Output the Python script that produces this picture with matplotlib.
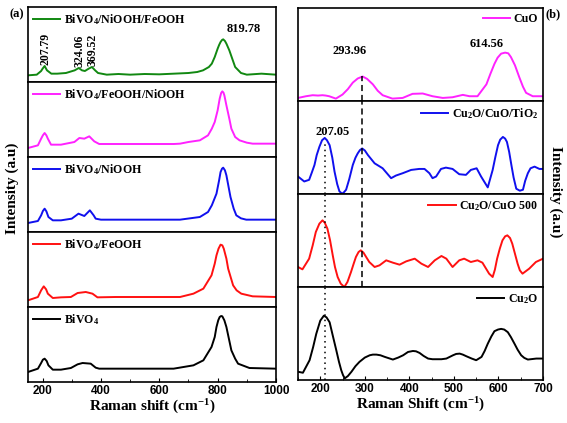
import matplotlib
matplotlib.use("Agg")
import matplotlib.pyplot as plt
from matplotlib.ticker import MultipleLocator

plt.rcParams['mathtext.fontset'] = 'custom'
plt.rcParams['mathtext.rm'] = 'Liberation Serif:bold'
plt.rcParams['mathtext.bf'] = 'Liberation Serif:bold'
plt.rcParams['mathtext.it'] = 'Liberation Serif:bold:italic'
plt.rcParams['font.family'] = 'Liberation Serif'
plt.rcParams['font.weight'] = 'bold'

# ---------------- Panel (a) data (intensity in a.u.) ----------------
a_labels = ["BiVO$_4$/NiOOH/FeOOH", "BiVO$_4$/FeOOH/NiOOH", "BiVO$_4$/NiOOH",
            "BiVO$_4$/FeOOH", "BiVO$_4$"]
a_colors = ["#118811", "#ff22ff", "#1010ee", "#ff1111", "#000000"]

x_nifeooh = [150, 180, 195, 200, 207, 215, 230, 250, 280, 310, 324, 335, 345, 358, 369, 380,
             390, 420, 460, 500, 550, 600, 650, 700, 730, 750, 770, 780, 790, 800, 805, 810,
             815, 819, 825, 830, 840, 850, 860, 880, 900, 950, 1000]
y_nifeooh = [20, 22, 33, 40, 48, 35, 25, 25, 27, 35, 42, 35, 33, 40, 45, 35,
             27, 22, 24, 22, 24, 23, 25, 27, 30, 35, 45, 55, 75, 100, 111, 120,
             126, 128, 123, 115, 95, 70, 45, 27, 22, 25, 22]

x_feniooh = [150, 184, 195, 201, 207, 213, 218, 229, 263, 309, 326, 343, 360, 377, 394, 450,
             550, 650, 671, 700, 739, 767, 780, 790, 800, 807, 812, 816, 820, 823, 830, 840,
             847, 860, 875, 900, 920, 1000]
y_feniooh = [27, 35, 55, 65, 72, 65, 55, 37, 37, 45, 57, 55, 62, 47, 39, 39,
             39, 39, 40, 45, 50, 65, 85, 105, 140, 175, 192, 197, 193, 185, 155, 115,
             85, 60, 50, 43, 40, 40]

x_niooh = [150, 184, 195, 201, 207, 213, 220, 235, 263, 300, 323, 343, 362, 375, 382, 400,
           500, 600, 671, 739, 767, 780, 796, 805, 810, 815, 819, 825, 830, 844, 855, 864,
           880, 898, 1000]
y_niooh = [27, 33, 50, 63, 70, 62, 45, 35, 35, 40, 55, 48, 65, 50, 40, 37,
           37, 37, 37, 45, 60, 80, 115, 155, 180, 190, 193, 185, 170, 105, 70, 50,
           41, 37, 37]

x_feooh = [150, 184, 195, 204, 212, 218, 235, 263, 297, 320, 348, 371, 388, 450, 550, 671,
           717, 751, 779, 790, 796, 803, 810, 816, 821, 830, 836, 853, 865, 881, 920, 1000]
y_feooh = [20, 30, 50, 62, 53, 40, 27, 29, 30, 42, 45, 40, 29, 30, 30, 30,
           40, 55, 95, 130, 155, 175, 187, 185, 175, 145, 115, 65, 50, 40, 32, 30]

x_bivo4 = [150, 184, 195, 201, 207, 214, 220, 235, 263, 297, 320, 337, 365, 382, 394, 500,
           649, 717, 751, 779, 790, 796, 802, 807, 812, 816, 823, 830, 847, 860, 870, 909, 1000]
y_bivo4 = [30, 40, 57, 67, 70, 63, 50, 37, 37, 42, 53, 57, 55, 43, 40, 40,
           40, 50, 65, 105, 135, 165, 185, 195, 198, 197, 185, 165, 95, 70, 55, 42, 40]

a_x = [x_nifeooh, x_feniooh, x_niooh, x_feooh, x_bivo4]
a_y = [y_nifeooh, y_feniooh, y_niooh, y_feooh, y_bivo4]

a_peaks = [207.79, 324.06, 369.52]
a_main_peak = 819.78

# ---------------- Panel (b) data (intensity in a.u.) ----------------
b_labels = ["CuO", "Cu$_2$O/CuO/TiO$_2$", "Cu$_2$O/CuO 500", "Cu$_2$O"]
b_colors = ["#ff22ff", "#1010ee", "#ff1111", "#000000"]

x_cuo = [150, 168, 183, 195, 205, 212, 220, 235, 250, 262, 273, 284, 295, 305, 318, 329,
         340, 362, 385, 407, 430, 452, 475, 497, 520, 535, 553, 573, 582, 591, 598, 606,
         615, 622, 628, 637, 647, 655, 662, 677, 700]
y_cuo = [9, 14, 17, 16, 17, 16, 14, 7, 19, 35, 54, 66, 72, 65, 49, 30,
         17, 7, 9, 21, 22, 14, 9, 11, 18, 14, 14, 49, 80, 109, 127, 139,
         142, 140, 129, 105, 69, 42, 24, 14, 14]

x_tio2 = [150, 164, 175, 181, 187, 192, 198, 204, 210, 215, 221, 227, 232, 238, 243, 249,
          253, 258, 265, 273, 279, 284, 289, 294, 300, 307, 322, 340, 359, 370, 385, 404,
          422, 434, 445, 452, 460, 471, 482, 497, 512, 527, 538, 551, 561, 576, 587, 593,
          599, 604, 610, 615, 619, 624, 629, 634, 640, 648, 655, 660, 666, 672, 681, 692, 700]
y_tio2 = [53, 38, 43, 65, 88, 118, 143, 163, 170, 163, 148, 110, 68, 30, 8, 1,
          5, 13, 45, 88, 110, 123, 133, 138, 132, 118, 93, 78, 48, 56, 63, 73,
          76, 76, 63, 48, 53, 76, 80, 76, 60, 58, 73, 78, 53, 20, 73, 112,
          148, 165, 173, 168, 158, 128, 88, 50, 16, 10, 13, 40, 63, 78, 83, 76, 76]

x_cu500 = [150, 160, 175, 183, 190, 198, 205, 210, 216, 222, 228, 233, 239, 246, 254, 261,
           269, 275, 280, 286, 291, 297, 303, 310, 322, 333, 348, 363, 378, 393, 412, 427,
           442, 457, 472, 483, 497, 512, 523, 538, 553, 564, 579, 587, 592, 597, 603, 609,
           615, 620, 626, 631, 637, 643, 648, 654, 669, 684, 700]
y_cu500 = [60, 53, 85, 125, 165, 190, 200, 193, 175, 140, 95, 60, 30, 10, 0, 15,
           45, 70, 90, 105, 110, 103, 90, 75, 60, 65, 80, 73, 67, 77, 85, 70,
           60, 80, 93, 85, 60, 80, 85, 75, 80, 73, 40, 30, 52, 85, 115, 140,
           152, 155, 147, 130, 100, 70, 50, 40, 55, 75, 85]

x_cu2o = [150, 161, 176, 184, 191, 200, 208, 214, 221, 228, 236, 242, 247, 251, 255, 262,
          270, 279, 288, 300, 311, 318, 326, 335, 345, 354, 363, 375, 386, 397, 408, 415,
          423, 432, 442, 452, 461, 472, 483, 498, 505, 513, 520, 528, 540, 550, 562, 569,
          576, 584, 591, 599, 606, 613, 621, 628, 636, 643, 651, 658, 666, 685, 700]
y_cu2o = [25, 22, 60, 100, 140, 180, 195, 190, 175, 135, 90, 55, 30, 15, 5, 12,
          25, 42, 55, 68, 75, 77, 77, 75, 70, 66, 62, 68, 75, 85, 88, 87,
          82, 73, 65, 63, 63, 63, 65, 75, 79, 80, 77, 72, 65, 60, 70, 88,
          110, 132, 148, 153, 155, 153, 145, 130, 110, 92, 75, 67, 62, 65, 65]

b_x = [x_cuo, x_tio2, x_cu500, x_cu2o]
b_y = [y_cuo, y_tio2, y_cu500, y_cu2o]
b_ymax = [273, 282, 279, 282]

b_peak_cuo_low = 293.96
b_peak_cuo_high = 614.56
b_peak_cu2o = 207.05
b_dotted_x = 210

# ---------------- Figure ----------------
fig = plt.figure(figsize=(5.67, 4.23), dpi=100)
W, H = 567.0, 423.0
leg_fs = 8.6


def style_axis(ax, last, major, minor, xlabel):
    ax.set_yticks([])
    ax.xaxis.set_major_locator(MultipleLocator(major))
    ax.xaxis.set_minor_locator(MultipleLocator(minor))
    ax.tick_params(axis='x', which='both', direction='in', length=3,
                   labelfontfamily='Liberation Sans', labelsize=8.5, pad=2)
    ax.tick_params(axis='x', which='minor', length=2)
    for s in ax.spines.values():
        s.set_linewidth(1.2)
    if not last:
        ax.tick_params(axis='x', which='both', length=0, labelbottom=False)
    else:
        ax.set_xlabel(xlabel, fontsize=11, fontweight='bold', labelpad=1)


# Left stack
lx0, lx1, ltop, lbot = 28, 276, 7, 382
n_a = 5
ph = (lbot - ltop) / n_a
axes_a = []
for i in range(n_a):
    top = ltop + i * ph
    ax = fig.add_axes([lx0 / W, 1 - (top + ph) / H, (lx1 - lx0) / W, ph / H])
    ax.plot(a_x[i], a_y[i], color=a_colors[i], lw=1.4, label=a_labels[i])
    ax.set_xlim(150, 1000)
    ax.set_ylim(0, 225)
    style_axis(ax, i == n_a - 1, 200, 100, "Raman shift (cm$^{-1}$)")
    ax.legend(loc='upper left', frameon=False, fontsize=leg_fs, handlelength=2.3,
              borderaxespad=0.1, handletextpad=0.3, borderpad=0.3)
    axes_a.append(ax)

ax0 = axes_a[0]
ya = [48, 42, 45]
for p, yv in zip(a_peaks, ya):
    ax0.text(p + 2, yv + 4, f"{p:.2f}", rotation=90, ha='center', va='bottom',
             fontsize=8.5, fontweight='bold')
ax0.text(a_main_peak + 68, 142, f"{a_main_peak:.2f}", ha='center', va='bottom',
         fontsize=9, fontweight='bold')

# Right stack
rx0, rx1, rtop, rbot = 298, 543, 8, 380
n_b = 4
phb = (rbot - rtop) / n_b
axes_b = []
for i in range(n_b):
    top = rtop + i * phb
    ax = fig.add_axes([rx0 / W, 1 - (top + phb) / H, (rx1 - rx0) / W, phb / H])
    ax.plot(b_x[i], b_y[i], color=b_colors[i], lw=1.4, label=b_labels[i])
    ax.set_xlim(150, 700)
    ax.set_ylim(0, b_ymax[i])
    style_axis(ax, i == n_b - 1, 100, 50, "Raman Shift (cm$^{-1}$)")
    ax.legend(loc='upper right', frameon=False, fontsize=leg_fs, handlelength=2.3,
              borderaxespad=0.1, handletextpad=0.3, borderpad=0.3)
    axes_b.append(ax)

# reference lines
axes_b[0].plot([b_peak_cuo_low, b_peak_cuo_low], [0, 72], color='black', lw=1.1, ls=(0, (4, 2.5)))
for ax in axes_b[1:3]:
    ax.axvline(b_peak_cuo_low, color='black', lw=1.1, ls=(0, (4, 2.5)))
axes_b[1].plot([b_dotted_x, b_dotted_x], [0, 160], color='black', lw=1.1, ls=(0, (1, 2.5)))
for ax in axes_b[2:4]:
    ax.axvline(b_dotted_x, color='black', lw=1.1, ls=(0, (1, 2.5)))

axes_b[0].text(265, 146, f"{b_peak_cuo_low:.2f}", ha='center', va='center', fontsize=9, fontweight='bold')
axes_b[0].text(573, 167, f"{b_peak_cuo_high:.2f}", ha='center', va='center', fontsize=9, fontweight='bold')
axes_b[1].text(228, 188, f"{b_peak_cu2o:.2f}", ha='center', va='center', fontsize=9, fontweight='bold')

# Figure labels
fig.text(12 / W, 1 - 188 / H, "Intensity (a.u)", rotation=90, ha='center', va='center',
         fontsize=11, fontweight='bold')
fig.text(556 / W, 1 - 192 / H, "Intensity (a.u)", rotation=270, ha='center', va='center',
         fontsize=11, fontweight='bold')
fig.text(17 / W, 1 - 14 / H, "(a)", ha='center', va='center', fontsize=9, fontweight='bold')
fig.text(553 / W, 1 - 14 / H, "(b)", ha='center', va='center', fontsize=9, fontweight='bold')

fig.savefig("out.png", dpi=100)
